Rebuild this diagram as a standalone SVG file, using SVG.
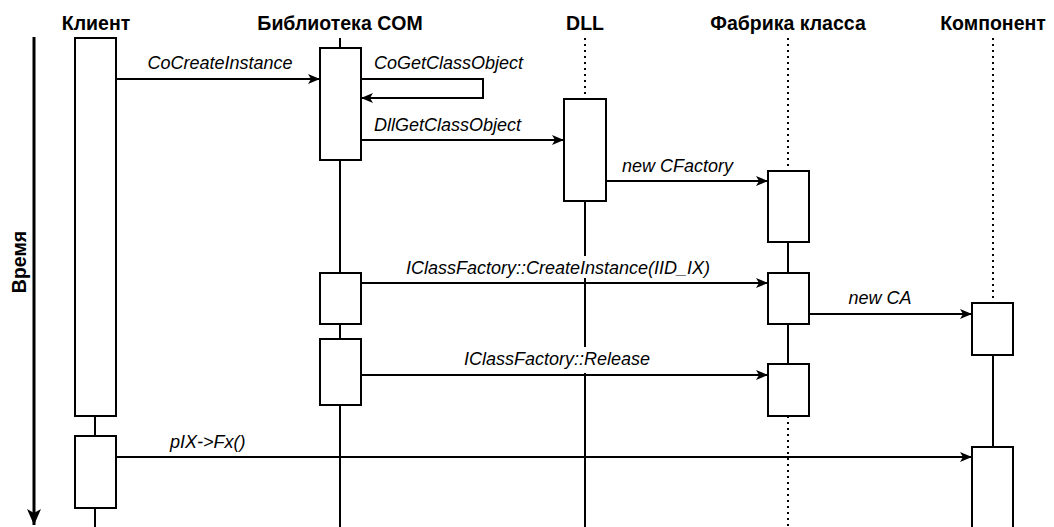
<svg xmlns="http://www.w3.org/2000/svg" width="1054" height="527" viewBox="0 0 1054 527">
<style>
.h{font-family:"Liberation Sans",Arial,sans-serif;font-size:19.5px;font-weight:bold;fill:#000;text-anchor:middle}
.m{font-family:"Liberation Sans",Arial,sans-serif;font-size:18px;font-style:italic;fill:#000}
.box{fill:#fff;stroke:#000;stroke-width:2}
.life{stroke:#000;stroke-width:2;fill:none}
.dot{stroke:#000;stroke-width:2;stroke-dasharray:2 4;fill:none}
.msg{stroke:#000;stroke-width:2;fill:none;marker-end:url(#ah)}
.bg{fill:#fff}
</style>
<defs>
<marker id="ah" viewBox="0 0 12 10" refX="12" refY="5" markerWidth="12" markerHeight="10" markerUnits="userSpaceOnUse" orient="auto">
<path d="M0,0 L12,5 L0,10 L3,5 Z" fill="#000"/>
</marker>
<marker id="tah" viewBox="0 0 16 14" refX="16" refY="7" markerWidth="16" markerHeight="14" markerUnits="userSpaceOnUse" orient="auto">
<path d="M0,0 L16,7 L0,14 L4,7 Z" fill="#000"/>
</marker>
</defs>
<rect width="1054" height="527" fill="#fff"/>

<g id="time">
<line x1="34" y1="37" x2="34" y2="525" stroke="#000" stroke-width="3" marker-end="url(#tah)"/>
<text class="h" transform="translate(26,262) rotate(-90)">Время</text>
</g>

<g id="client">
<text class="h" x="96" y="30">Клиент</text>
<line class="life" x1="95" y1="38" x2="95" y2="527"/>
<rect class="box" x="75" y="38" width="41" height="378"/>
<rect class="box" x="75" y="436" width="41" height="72"/>
</g>

<g id="comlib">
<text class="h" x="340" y="30">Библиотека COM</text>
<line class="life" x1="340" y1="38" x2="340" y2="527"/>
<rect class="box" x="320" y="48" width="41" height="112"/>
<rect class="box" x="320" y="273" width="41" height="51"/>
<rect class="box" x="320" y="339" width="41" height="66"/>
</g>

<g id="dll">
<text class="h" x="585" y="30">DLL</text>
<line class="dot" x1="585" y1="38" x2="585" y2="99"/>
<line class="life" x1="585" y1="201" x2="585" y2="527"/>
<rect class="box" x="564" y="99" width="42" height="102"/>
</g>

<g id="factory">
<text class="h" x="788" y="30">Фабрика класса</text>
<line class="dot" x1="788" y1="38" x2="788" y2="171"/>
<line class="life" x1="788" y1="242" x2="788" y2="364"/>
<line class="dot" x1="788" y1="416" x2="788" y2="527"/>
<rect class="box" x="768" y="171" width="41" height="71"/>
<rect class="box" x="768" y="273" width="41" height="51"/>
<rect class="box" x="768" y="364" width="41" height="52"/>
</g>

<g id="component">
<text class="h" x="993" y="30">Компонент</text>
<line class="dot" x1="993" y1="38" x2="993" y2="303"/>
<line class="life" x1="993" y1="355" x2="993" y2="447"/>
<rect class="box" x="972" y="303" width="41" height="52"/>
<rect class="box" x="972" y="447" width="41" height="90"/>
</g>

<g id="connectors">
<line class="msg" x1="116" y1="79" x2="320" y2="79"/>
<text class="m" x="220" y="69" text-anchor="middle">CoCreateInstance</text>

<polyline class="msg" points="361,79 483,79 483,98 361,98"/>
<text class="m" x="374" y="69">CoGetClassObject</text>

<line class="msg" x1="361" y1="140" x2="564" y2="140"/>
<text class="m" x="374" y="131">DllGetClassObject</text>

<line class="msg" x1="606" y1="181" x2="768" y2="181"/>
<text class="m" x="622" y="172">new CFactory</text>

<rect class="bg" x="400" y="256" width="318" height="22"/>
<line class="msg" x1="361" y1="283" x2="768" y2="283"/>
<text class="m" x="558" y="274" text-anchor="middle">IClassFactory::CreateInstance(IID_IX)</text>

<line class="msg" x1="809" y1="314" x2="972" y2="314"/>
<text class="m" x="880" y="304" text-anchor="middle">new CA</text>

<rect class="bg" x="458" y="347" width="198" height="26"/>
<line class="msg" x1="361" y1="375" x2="768" y2="375"/>
<text class="m" x="557" y="365" text-anchor="middle">IClassFactory::Release</text>

<line class="msg" x1="116" y1="457" x2="972" y2="457"/>
<text class="m" x="170" y="448">pIX-&gt;Fx()</text>
</g>
</svg>
